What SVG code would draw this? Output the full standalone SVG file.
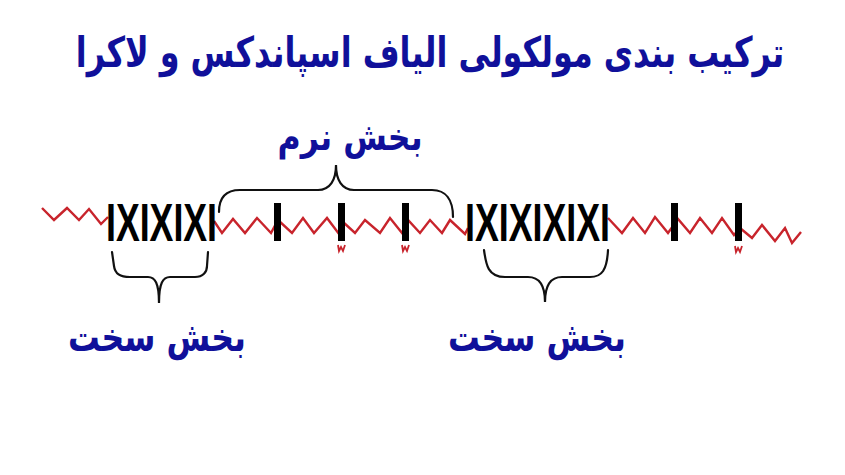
<svg xmlns="http://www.w3.org/2000/svg" width="845" height="475" viewBox="0 0 845 475">
<style>
.lbl{font-family:"DejaVu Sans","Noto Sans",sans-serif;font-weight:bold;fill:#10109a;direction:rtl}
.blk{font-family:"Liberation Sans",Arial,sans-serif;font-weight:bold;fill:#000}
.bar{fill:#000}
.chain{fill:none;stroke:#c8242c;stroke-width:2.4;stroke-linejoin:miter}
.brace{fill:none;stroke:#111;stroke-width:2.2;stroke-linecap:round}
.mark{fill:none;stroke:#c8242c;stroke-width:1.8}
</style>
<rect width="845" height="475" fill="#fff"/>
<g id="title"><text class="lbl" transform="translate(430,67) scale(0.758,1)" x="0" y="0" font-size="42" text-anchor="middle">ترکیب بندی مولکولی الیاف اسپاندکس و لاکرا</text></g>
<g id="connectors">
<polyline class="chain" points="42,208 54,220 67,208 79,220 89,209 101,224 108,217"/>
<polyline class="chain" points="214,221 222,233 233,219 245,233 257,218 271,233 278,220 292,233 303,218 314,233 327,218 339,234 343,222 355,233 365,220 380,233 390,218 402,233 408,220 420,233 430,220 442,233 450,220 465,234 468,228"/>
<polyline class="chain" points="608,218 622,233 633,218 645,233 655,217 668,233 678,219 690,233 700,218 712,233 722,218 734,235 740,228 752,238 762,225 775,241 785,228 792,243 801,232"/>
<path class="brace" d="M219,212 C219,198 226,190 240,190 L318,190 C330,190 336,180 336,165 C336,180 342,190 354,190 L432,190 C446,190 453,200 453,217"/>
<path class="brace" d="M112,252 L114,266 C115,274 120,277 130,277 L148,277 C155,277 159,283 159,303 C159,283 163,277 170,277 L195,277 C203,277 207,272 207,266 L208,252"/>
<path class="brace" d="M484,250 C486,265 488,277 505,277 L528,277 C538,277 545,283 545,302 C545,283 552,277 562,277 L590,277 C602,277 607,270 608,250"/>
</g>
<g id="hard-block-left"><text class="blk" x="106" y="241" font-size="53" textLength="111" lengthAdjust="spacingAndGlyphs">IXIXIXI</text></g>
<g id="hard-block-right"><text class="blk" x="465" y="241" font-size="53" textLength="145" lengthAdjust="spacingAndGlyphs">IXIXIXIXI</text></g>
<g id="soft-units">
<rect class="bar" x="274" y="203" width="7" height="38"/>
<rect class="bar" x="338" y="203" width="7" height="38"/>
<rect class="bar" x="402" y="203" width="7" height="38"/>
<rect class="bar" x="671" y="203" width="7" height="38"/>
<rect class="bar" x="735" y="203" width="7" height="38"/>
<polyline class="mark" points="338,245 339,251 341,247 343,251 345,245"/>
<polyline class="mark" points="402,245 403,251 405,247 407,251 409,245"/>
<polyline class="mark" points="735,246 736,252 738,248 740,252 742,246"/>
</g>
<g id="soft-label"><text class="lbl" x="350" y="150" font-size="38" text-anchor="middle" textLength="145" lengthAdjust="spacingAndGlyphs">بخش نرم</text></g>
<g id="hard-label-left"><text class="lbl" x="157" y="351" font-size="40" text-anchor="middle" textLength="178" lengthAdjust="spacingAndGlyphs">بخش سخت</text></g>
<g id="hard-label-right"><text class="lbl" x="537" y="351" font-size="40" text-anchor="middle" textLength="178" lengthAdjust="spacingAndGlyphs">بخش سخت</text></g>
</svg>
